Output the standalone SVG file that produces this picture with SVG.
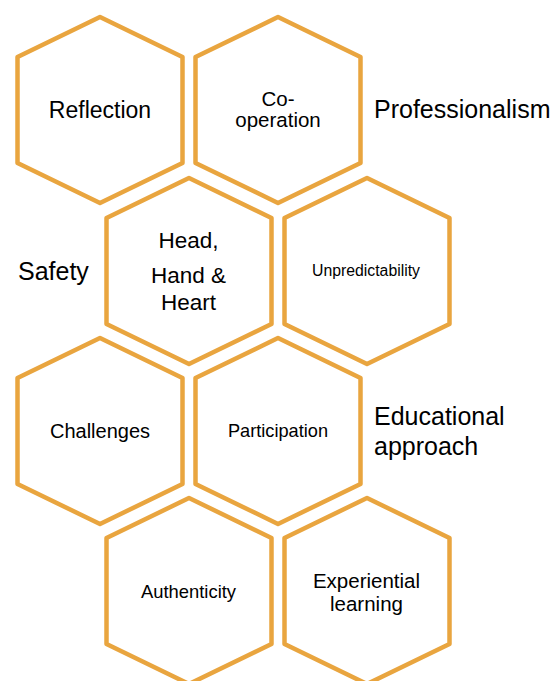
<svg xmlns="http://www.w3.org/2000/svg" xmlns:xlink="http://www.w3.org/1999/xlink" width="555" height="681" viewBox="0 0 555 681">
  <style>
    .hex { fill: #ffffff; stroke: #E9A53F; stroke-width: 4.5; stroke-linejoin: round; }
    text { font-family: "Liberation Sans", Arial, sans-serif; fill: #000000; text-anchor: middle; }
    .side { text-anchor: start; font-size: 25px; }
  </style>
  <defs>
    <!-- pointy-top hexagon cell, centred on the origin -->
    <polygon id="cell" class="hex" points="0,-93 82.5,-53 82.5,53 0,93 -82.5,53 -82.5,-53"/>
  </defs>
  <rect width="555" height="681" fill="#ffffff"/>

  <g id="connectors"/>

  <g id="reflection">
    <use xlink:href="#cell" x="100" y="110"/>
    <text x="100" y="118" font-size="23">Reflection</text>
  </g>
  <g id="cooperation">
    <use xlink:href="#cell" x="278" y="110"/>
    <text x="278" y="106" font-size="20.5">Co-</text>
    <text x="278" y="127" font-size="20.5">operation</text>
  </g>
  <g id="head-hand-heart">
    <use xlink:href="#cell" x="189" y="271"/>
    <text x="188.5" y="248" font-size="22.5">Head,</text>
    <text x="188.5" y="283" font-size="22.5">Hand &amp;</text>
    <text x="188.5" y="310" font-size="22.5">Heart</text>
  </g>
  <g id="unpredictability">
    <use xlink:href="#cell" x="367" y="271"/>
    <text x="366" y="276" font-size="15.8">Unpredictability</text>
  </g>
  <g id="challenges">
    <use xlink:href="#cell" x="100" y="431"/>
    <text x="100" y="438" font-size="20">Challenges</text>
  </g>
  <g id="participation">
    <use xlink:href="#cell" x="278" y="431"/>
    <text x="278" y="437" font-size="18.2">Participation</text>
  </g>
  <g id="authenticity">
    <use xlink:href="#cell" x="189" y="591"/>
    <text x="188.5" y="598" font-size="18.4">Authenticity</text>
  </g>
  <g id="experiential-learning">
    <use xlink:href="#cell" x="367" y="591"/>
    <text x="366.5" y="588" font-size="20.5">Experiential</text>
    <text x="366.5" y="611" font-size="20.5">learning</text>
  </g>

  <g id="labels">
    <text class="side" x="374" y="118">Professionalism</text>
    <text class="side" x="18" y="280">Safety</text>
    <text class="side" x="374" y="425">Educational</text>
    <text class="side" x="374" y="455">approach</text>
  </g>
</svg>
